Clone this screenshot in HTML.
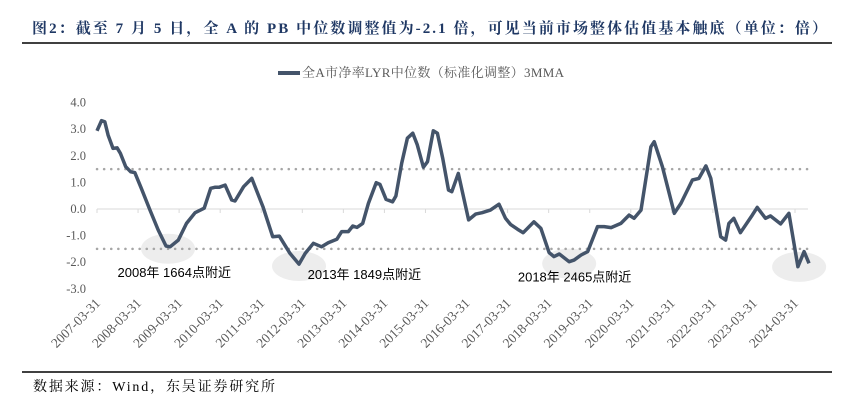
<!DOCTYPE html>
<html><head><meta charset="utf-8"><style>
body{margin:0;background:#fff;width:847px;height:404px;overflow:hidden;font-family:"Liberation Serif","Noto Serif CJK SC",serif}
</style></head><body>
<svg width="847" height="404" xmlns="http://www.w3.org/2000/svg">
<text x="32" y="33" font-size="15" font-weight="bold" fill="#1f3864" textLength="795" lengthAdjust="spacing" font-family="Liberation Serif, Noto Serif CJK SC, serif">图2：截至 7 月 5 日，全 A 的 PB 中位数调整值为-2.1 倍，可见当前市场整体估值基本触底（单位：倍）</text>
<line x1="22" y1="43" x2="832" y2="43" stroke="#000" stroke-width="1.5"/>
<g>
<line x1="278" y1="73" x2="300" y2="73" stroke="#44546a" stroke-width="4"/>
<text x="302" y="77" font-size="13" fill="#595959" textLength="262" lengthAdjust="spacing">全A市净率LYR中位数（标准化调整）3MMA</text>
</g>
<g id="ellipses"></g>
<g id="grid"></g>
<g id="yaxis"></g>
<g id="xaxis"></g>
<path id="series" fill="none" stroke="#44546a" stroke-width="3.5" stroke-linejoin="round"/>
<g id="annots"></g>
<line x1="22" y1="372" x2="832" y2="372" stroke="#000" stroke-width="1.5"/>
<text x="33" y="391" font-size="14" fill="#000" textLength="242" lengthAdjust="spacing">数据来源：Wind，东吴证券研究所</text>
</svg>
<script>
const years=[2007.25,2007.36,2007.44,2007.52,2007.64,2007.74,2007.82,2007.95,2008.07,2008.17,2008.33,2008.54,2008.74,2008.93,2009.03,2009.23,2009.43,2009.64,2009.86,2010.02,2010.13,2010.23,2010.37,2010.53,2010.61,2010.82,2011.02,2011.29,2011.53,2011.69,2011.95,2012.17,2012.32,2012.52,2012.72,2012.88,2013.09,2013.21,2013.37,2013.48,2013.58,2013.72,2013.86,2014.05,2014.14,2014.29,2014.45,2014.53,2014.67,2014.81,2014.94,2015.05,2015.2,2015.3,2015.44,2015.54,2015.67,2015.81,2015.89,2016.05,2016.3,2016.47,2016.63,2016.83,2017.04,2017.2,2017.32,2017.49,2017.63,2017.89,2018.06,2018.26,2018.38,2018.51,2018.75,2018.87,2019.04,2019.2,2019.44,2019.6,2019.77,2020.01,2020.21,2020.33,2020.5,2020.74,2020.82,2021.02,2021.31,2021.47,2021.75,2021.91,2022.08,2022.2,2022.44,2022.56,2022.64,2022.76,2022.92,2023.21,2023.33,2023.53,2023.65,2023.9,2024.1,2024.32,2024.47,2024.59];
const values=[2.94,3.32,3.28,2.78,2.28,2.30,2.09,1.59,1.40,1.37,0.78,-0.04,-0.79,-1.39,-1.42,-1.17,-0.54,-0.14,0.03,0.78,0.82,0.82,0.90,0.34,0.30,0.84,1.15,0.09,-1.04,-1.02,-1.67,-2.07,-1.67,-1.29,-1.42,-1.27,-1.14,-0.85,-0.85,-0.64,-0.69,-0.54,0.21,0.99,0.93,0.36,0.27,0.49,1.72,2.66,2.85,2.41,1.57,1.78,2.94,2.85,1.91,0.71,0.65,1.34,-0.41,-0.19,-0.14,-0.04,0.18,-0.35,-0.58,-0.76,-0.89,-0.48,-0.73,-1.64,-1.79,-1.69,-1.98,-1.92,-1.73,-1.60,-0.66,-0.66,-0.70,-0.54,-0.23,-0.35,-0.04,2.34,2.53,1.59,-0.16,0.21,1.09,1.15,1.62,1.15,-1.04,-1.17,-0.54,-0.35,-0.89,-0.23,0.06,-0.35,-0.26,-0.56,-0.16,-2.17,-1.60,-2.04];
const yTicks=[4,3,2,1,0,-1,-2,-3];
const xTickLabels=["2007-03-31","2008-03-31","2009-03-31","2010-03-31","2011-03-31","2012-03-31","2013-03-31","2014-03-31","2015-03-31","2016-03-31","2017-03-31","2018-03-31","2019-03-31","2020-03-31","2021-03-31","2022-03-31","2023-03-31","2024-03-31"];
const bands=[1.5,-1.5];
const lows=[{t:2008.98,v:-1.42},{t:2012.17,v:-2.07},{t:2018.75,v:-1.98},{t:2024.35,v:-2.1}];
const annotations=[{t:2007.75,v:-2.55,label:"2008年 1664点附近"},{t:2012.38,v:-2.63,label:"2013年 1849点附近"},{t:2017.5,v:-2.73,label:"2018年 2465点附近"}];
const NS="http://www.w3.org/2000/svg";
const X=t=>97+(t-2007.25)*41.06;
const Y=v=>209-v*26.6;
function mk(tag,attrs,parent,txt){const e=document.createElementNS(NS,tag);for(const k in attrs)e.setAttribute(k,attrs[k]);if(txt!==undefined)e.textContent=txt;parent.appendChild(e);return e;}
const grid=document.getElementById('grid'),ya=document.getElementById('yaxis'),xa=document.getElementById('xaxis'),el=document.getElementById('ellipses'),an=document.getElementById('annots');
bands.forEach(b=>{const l=mk('line',{x1:97,x2:808,y1:Y(b),y2:Y(b),stroke:'#a6a6a6','stroke-width':2.5,'stroke-dasharray':'0.1 7','stroke-linecap':'round'},grid);

});
const z=mk('line',{x1:97,x2:808,y1:Y(0),y2:Y(0),stroke:'#d9d9d9','stroke-width':1},grid);


yTicks.forEach(v=>{const t=mk('text',{x:86,y:Y(v)+4,'font-size':12.5,fill:'#595959','text-anchor':'end'},ya,v.toFixed(1));

});
xTickLabels.forEach((s,i)=>{const x=X(2007.25+i);
const tk=mk('line',{x1:x,x2:x,y1:Y(0),y2:Y(0)+4,stroke:'#d9d9d9'},xa);


const t=mk('text',{x:x+4,y:304,'font-size':13.5,fill:'#595959','text-anchor':'end',transform:`rotate(-45 ${x+4} 304)`},xa,s);

});
lows.forEach(o=>{const e=mk('ellipse',{cx:X(o.t),cy:Y(o.v)+2,rx:27,ry:15,fill:'#ededed'},el);

});
annotations.forEach(o=>{const t=mk('text',{x:X(o.t),y:Y(o.v),'font-size':13,fill:'#000','font-family':'Liberation Sans, Noto Sans CJK SC, sans-serif'},an,o.label);

});
document.getElementById('series').setAttribute('d',years.map((t,i)=>(i?'L':'M')+X(t).toFixed(1)+' '+Y(values[i]).toFixed(1)).join(' '));
</script>
</body></html>
